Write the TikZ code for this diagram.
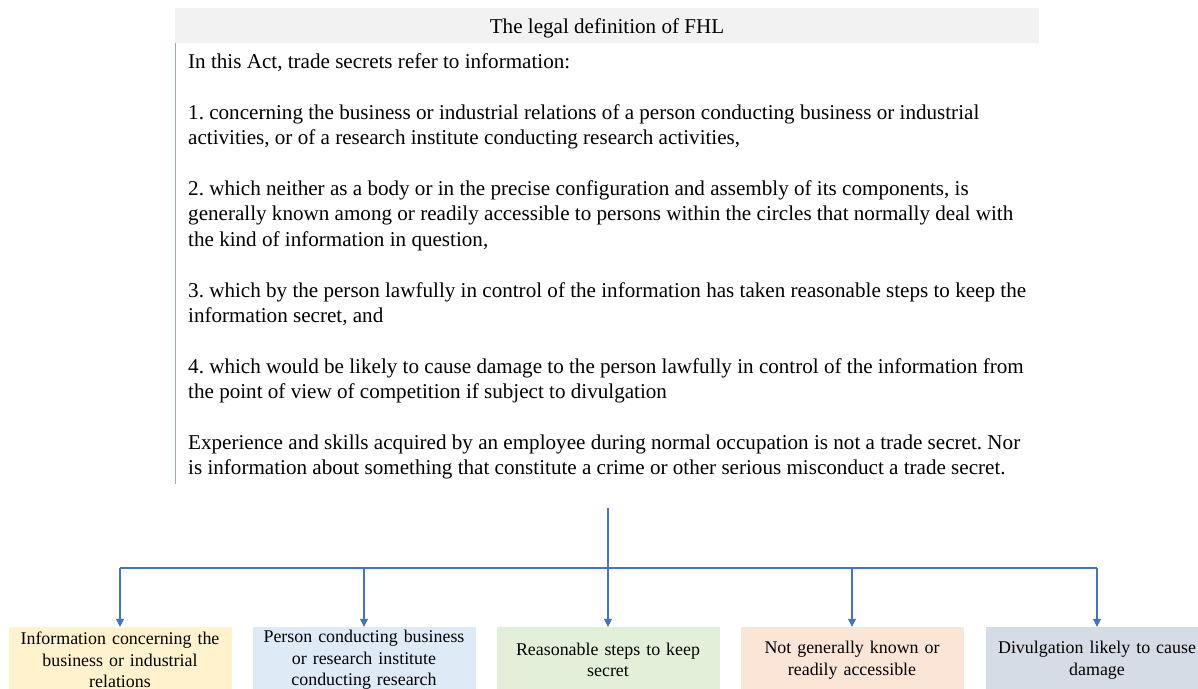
\documentclass[tikz,border=0pt]{standalone}
\usepackage{fontspec}
\setmainfont{Liberation Serif}
\usetikzlibrary{arrows.meta}
\frenchspacing
\definecolor{linkblue}{HTML}{4472C4}
\definecolor{sideblue}{HTML}{8EA9DB}
\definecolor{titlegray}{HTML}{F2F2F2}
\definecolor{fillyellow}{HTML}{FFF2CC}
\definecolor{fillblue}{HTML}{DEEBF7}
\definecolor{fillgreen}{HTML}{E2F0D9}
\definecolor{fillpeach}{HTML}{FBE5D6}
\definecolor{fillslate}{HTML}{D6DCE5}
\tikzset{
  bodyline/.style={anchor=base west, inner sep=0pt, font=\fontsize{21.1}{25}\selectfont},
  leafbox/.style={minimum width=223pt, minimum height=66pt, text width=221pt, align=center, inner sep=0pt,
    font=\fontsize{17.9}{21.5}\selectfont},
  conn/.style={draw=linkblue, line width=1.1pt},
  arr/.style={conn, -{Triangle[width=8pt,length=8pt]}}
}
\begin{document}
\begin{tikzpicture}[x=1pt,y=-1pt]
\useasboundingbox (0,0) rectangle (1198,688);
\clip (0,0) rectangle (1198,688);
\fill[white] (0,0) rectangle (1198,688);
\fill[titlegray] (175,8) rectangle (1039,43);
\node[anchor=base, inner sep=0pt, font=\fontsize{21.1}{25}\selectfont] (title) at (607,33) {The legal definition of FHL};
\draw[sideblue, line width=1pt] (175,43) -- (175,484);
\node[bodyline] (l1) at (188,68.5) {In this Act, trade secrets refer to information:};
\node[bodyline] (l2) at (188,119) {1. concerning the business or industrial relations of a person conducting business or industrial};
\node[bodyline] (l3) at (188,144.5) {activities, or of a research institute conducting research activities,};
\node[bodyline] (l4) at (188,195) {2. which neither as a body or in the precise configuration and assembly of its components, is};
\node[bodyline] (l5) at (188,220.5) {generally known among or readily accessible to persons within the circles that normally deal with};
\node[bodyline] (l6) at (188,246) {the kind of information in question,};
\node[bodyline] (l7) at (188,297) {3. which by the person lawfully in control of the information has taken reasonable steps to keep the};
\node[bodyline] (l8) at (188,322.5) {information secret, and};
\node[bodyline] (l9) at (188,373) {4. which would be likely to cause damage to the person lawfully in control of the information from};
\node[bodyline] (l10) at (188,398.5) {the point of view of competition if subject to divulgation};
\node[bodyline] (l11) at (188,449) {Experience and skills acquired by an employee during normal occupation is not a trade secret. Nor};
\node[bodyline] (l12) at (188,474.5) {is information about something that constitute a crime or other serious misconduct a trade secret.};

\node[leafbox, fill=fillyellow] (b1) at (120,660) {Information concerning the\\business or industrial\\relations};
\node[leafbox, fill=fillblue] (b2) at (364,660) {Person conducting business\\or research institute\\conducting research};
\node[leafbox, fill=fillgreen] (b3) at (608,660) {Reasonable steps to keep\\secret};
\node[leafbox, fill=fillpeach] (b4) at (852,660) {Not generally known or\\readily accessible};
\node[leafbox, fill=fillslate] (b5) at (1097,660) {Divulgation likely to cause\\damage};

\coordinate (stem) at (608,508);
\coordinate (bus) at (608,568);
\draw[conn] (stem) -- (bus);
\draw[conn] (b1.north |- bus) -- (b5.north |- bus);
\foreach \b in {b1,b2,b3,b4,b5} {
  \draw[arr] (\b.north |- bus) -- (\b.north);
}
\end{tikzpicture}
\end{document}
